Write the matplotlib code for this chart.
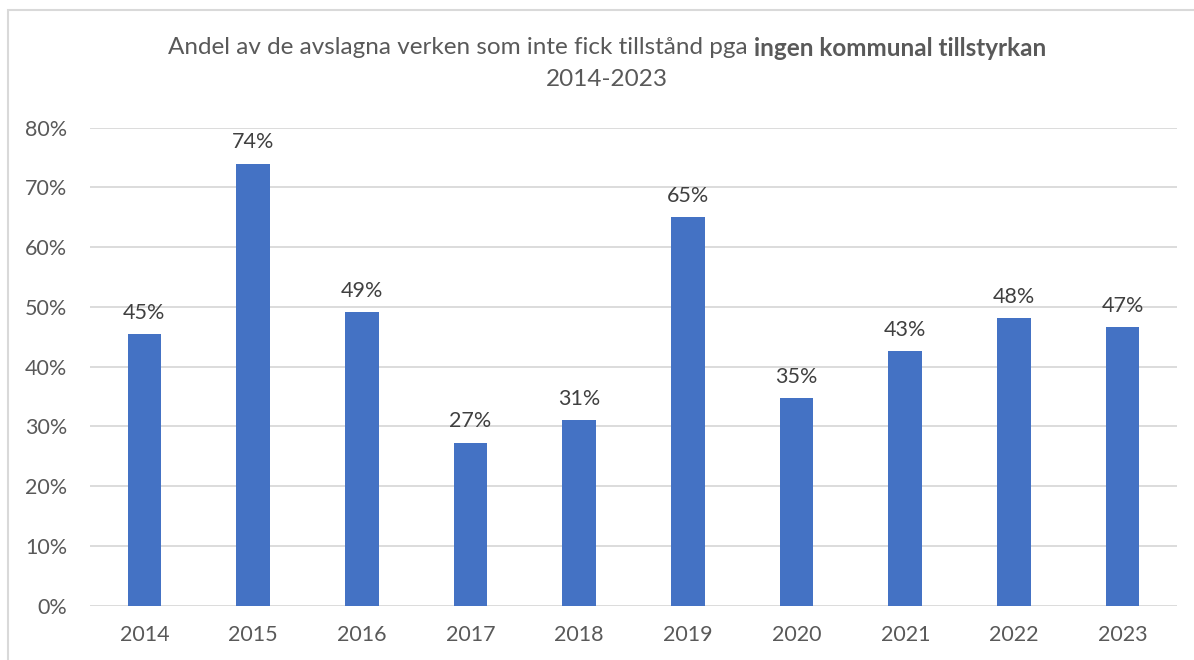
import matplotlib
matplotlib.use("Agg")
import matplotlib.pyplot as plt
from matplotlib.patches import Rectangle
from matplotlib.ticker import FuncFormatter

years = ["2014", "2015", "2016", "2017", "2018", "2019", "2020", "2021", "2022", "2023"]
shares = [45.4, 74.0, 49.2, 27.3, 31.1, 65.1, 34.7, 42.6, 48.2, 46.7]
y_ticks = [0, 10, 20, 30, 40, 50, 60, 70, 80]
title_normal = "Andel av de avslagna verken som inte fick tillstånd pga "
title_bold = "ingen kommunal tillstyrkan"
title_line2 = "2014-2023"

FONT = ["Lato", "DejaVu Sans"]
plt.rcParams['font.family'] = FONT
TXT = "#595959"
BAR = "#4472C4"
GRID = "#D9D9D9"

fig = plt.figure(figsize=(11.94, 6.6), dpi=100)
ax = fig.add_axes([90/1194, 1-605.7/660, (1177-90)/1194, (605.7-127.7)/660])

x = list(range(len(years)))
bars = ax.bar(x, shares, width=0.31, color=BAR, zorder=3)
for xi, v in zip(x, shares):
    ax.annotate(f"{round(v):.0f}%", (xi, v), xytext=(0, 8), textcoords="offset points",
                ha="center", va="bottom", fontsize=15.5, color="#404040")

ax.set_xlim(-0.5, len(years) - 0.5)
ax.set_ylim(0, 80)
ax.set_yticks(y_ticks)
ax.yaxis.set_major_formatter(FuncFormatter(lambda v, p: f"{v:.0f}%"))
ax.set_xticks(x)
ax.set_xticklabels(years)
ax.tick_params(axis="both", length=0, labelsize=15.5, labelcolor=TXT)
ax.tick_params(axis="y", pad=16.5)
ax.tick_params(axis="x", pad=14)
ax.grid(axis="y", color=GRID, linewidth=1.3, zorder=0)
for s in ax.spines.values():
    s.set_visible(False)

# border of chart area
fig.patches.append(Rectangle((8/1194, -0.05), 1.2, 1-10/660 + 0.05, transform=fig.transFigure,
                             fill=False, edgecolor=GRID, linewidth=1.5))

# mixed-weight title
fig.canvas.draw()
r = fig.canvas.get_renderer()
y1 = 1 - 48/660
t1 = fig.text(0, y1, title_normal, fontsize=17.5, color=TXT, va="center", ha="left")
t2 = fig.text(0, y1, title_bold, fontsize=17.5, color=TXT, va="center", ha="left", fontweight="bold")
w1 = t1.get_window_extent(r).width
w2 = t2.get_window_extent(r).width
cx = 607
start = cx - (w1 + w2) / 2
t1.set_x(start / 1194)
t2.set_x((start + w1) / 1194)
fig.text(cx / 1194, 1 - 79/660, title_line2, fontsize=17.5, color=TXT, va="center", ha="center")

fig.savefig("out.png", dpi=100)
